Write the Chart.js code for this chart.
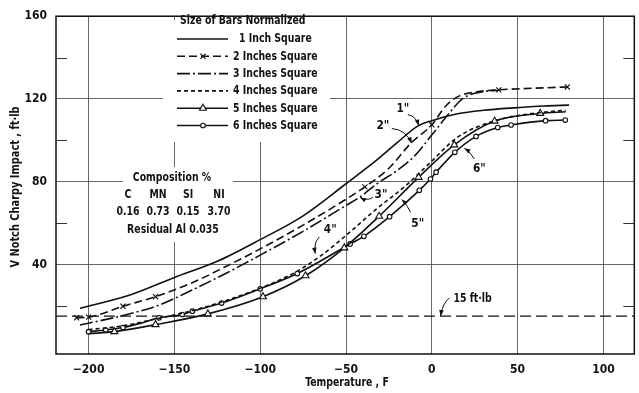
<!DOCTYPE html>
<html>
<head>
<meta charset="utf-8">
<script src="https://cdn.jsdelivr.net/npm/chart.js@4.4.1/dist/chart.umd.min.js"></script>
<style>
  html, body { margin: 0; padding: 0; background: #fff; }
  #c { display: block; }
</style>
</head>
<body>
<canvas id="c" width="639" height="393"></canvas>
<script>
// Axis ticks
const xTicks = [-200, -150, -100, -50, 0, 50, 100];
const yTicks = [40, 80, 120, 160];
const yMinorTicks = [20, 60, 100, 140];

// Legend / curve tags
const seriesNames = ['1 Inch Square', '2 Inches Square', '3 Inches Square',
                     '4 Inches Square', '5 Inches Square', '6 Inches Square'];
const curveTags = ['1"', '2"', '3"', '4"', '5"', '6"'];

// 1 inch square bars
const temp1   = [-205, -175, -150, -125, -100, -75, -50, -32, -20, -8, 0, 15, 30, 50, 65, 80];
const impact1 = [18.8, 25.5, 33.7, 41.5, 52, 63.5, 79, 90.5, 99, 107, 109.5, 112.8, 114.5, 115.8, 116.6, 117];

// 2 inches square bars
const temp2   = [-207, -200, -180, -161, -140, -120, -100, -75, -50, -39, -25, -12, 0, 8, 15, 25, 39, 60, 79];
const impact2 = [14.2, 14.5, 19.8, 24.4, 31, 39, 47.5, 59, 71.5, 77.5, 86.5, 98.8, 107.5, 116.5, 121, 123.3, 124.4, 125.2, 125.8];
const marks2  = [1, 1, 1, 1, 0, 0, 0, 0, 0, 1, 0, 0, 1, 0, 0, 0, 1, 0, 1];

// 3 inches square bars
const temp3   = [-205, -180, -160, -140, -119, -100, -75, -50, -42, -32, -20, -10, 1, 10, 18, 29, 39];
const impact3 = [10.7, 15.3, 20, 27.5, 36.1, 44.5, 56, 68.5, 72.5, 79, 85.5, 92.5, 103.6, 113, 120.2, 123.4, 124.2];

// 4 inches square bars
const temp4   = [-200, -180, -160, -140, -120, -100, -80, -65, -50, -32, -15, 0, 15, 37, 64, 78];
const impact4 = [8.5, 10.3, 13.8, 17.6, 22.5, 28.5, 36, 44, 54, 67, 78.2, 90, 101.5, 109.5, 113.5, 114.5];

// 5 inches square bars
const temp5   = [-200, -185, -161, -130.5, -98.4, -73.6, -51, -30.7, -7.7, 13.1, 36.6, 63.2, 78];
const impact5 = [6.5, 7.5, 10.9, 16.1, 24.4, 34.5, 48, 63.3, 82.1, 97.8, 109.3, 113, 113.8];
const marks5  = [0, 1, 1, 1, 1, 1, 1, 1, 1, 1, 1, 1, 0];

// 6 inches square bars
const temp6   = [-200, -190, -180, -170, -159, -145.5, -139.5, -122.5, -100, -78.4, -47.6, -39.6, -24.6, -7.3, -0.8, 2.5, 13.4, 25.8, 38.4, 46.2, 66.3, 77.8];
const impact6 = [7.5, 8.3, 9.5, 11.5, 14.2, 15.8, 17.4, 21.3, 28.2, 35.6, 49.9, 53.6, 63.1, 75.8, 81.3, 84.6, 94.2, 101.9, 106.2, 107.4, 109.5, 109.8];
const marks6  = [1, 1, 1, 0, 1, 1, 1, 1, 1, 1, 1, 1, 1, 1, 1, 1, 1, 1, 1, 1, 1, 1];

// Reference impact level
const thresholdValue = 15;
const thresholdLabel = '15 ft·lb';

// Steel composition
const compositionTitle = 'Composition %';
const elementNames = ['C', 'MN', 'SI', 'NI'];
const elementPercents = ['0.16', '0.73', '0.15', '3.70'];
const residualNote = 'Residual Al 0.035';

const FONT = "'DejaVu Sans Condensed', 'Liberation Sans Narrow', sans-serif";
const TEXT_FONT = 'bold 13px ' + FONT;
const NARROW = 0.8;   // horizontal squeeze for annotation text
const INK = '#111';

const series = [
  { t: temp1, v: impact1, marks: null,   dash: [],            style: false,      r: 0 },
  { t: temp2, v: impact2, marks: marks2, dash: [8, 4],        style: 'crossRot', r: 3.6 },
  { t: temp3, v: impact3, marks: null,   dash: [13, 3, 2, 3], style: false,      r: 0 },
  { t: temp4, v: impact4, marks: null,   dash: [4, 3],        style: false,      r: 0 },
  { t: temp5, v: impact5, marks: marks5, dash: [],            style: 'triangle', r: 4 },
  { t: temp6, v: impact6, marks: marks6, dash: [],            style: 'circle',   r: 2.3 }
];

// Curve tags with their leader arrows, in data coordinates
const tagNotes = [
  { text: curveTags[0], at: [-16.9, 115.2], from: [-14.0, 112.4], via: [-9.4, 111.9], to: [-7.6, 107.1] },
  { text: curveTags[1], at: [-28.5, 107.1], from: [-23.3, 105.7], via: [-15.2, 105.2], to: [-11.7, 98.6] },
  { text: curveTags[2], at: [-29.6, 73.8],  from: [-34.3, 72.4],  via: [-37.7, 70.5],  to: [-41.8, 72.4] },
  { text: curveTags[3], at: [-59.2, 56.7],  from: [-65.5, 53.3],  via: [-69.0, 50.5],  to: [-67.9, 45.2] },
  { text: curveTags[4], at: [-8.2, 59.5],   from: [-12.3, 65.2],  via: [-14.6, 69.0],  to: [-17.5, 71.4] },
  { text: curveTags[5], at: [27.7, 86.2],   from: [24.8, 91.0],   via: [22.5, 94.3],   to: [19.0, 96.2] }
];
const thresholdNote = { at: [12.6, 23.3], from: [10.3, 23.8], via: [6.3, 21.4], to: [5.1, thresholdValue] };

const datasets = series.map(s => ({
  data: s.t.map((t, i) => ({ x: t, y: s.v[i] })),
  showLine: true,
  borderColor: INK,
  borderWidth: 1.6,
  borderDash: s.dash,
  cubicInterpolationMode: 'monotone',
  fill: false,
  pointStyle: s.style || 'circle',
  pointRadius: ctx => (s.marks && s.marks[ctx.dataIndex]) ? s.r : 0,
  pointHoverRadius: 0,
  pointBackgroundColor: '#fff',
  pointBorderColor: INK,
  pointBorderWidth: 1.1
}));

datasets.push({
  data: [{ x: -219, y: thresholdValue }, { x: 118, y: thresholdValue }],
  showLine: true,
  borderColor: INK,
  borderWidth: 1.4,
  borderDash: [11, 5],
  pointRadius: 0,
  fill: false
});

function arrow(ctx, p0, pc, p1) {
  ctx.beginPath();
  ctx.moveTo(p0[0], p0[1]);
  ctx.quadraticCurveTo(pc[0], pc[1], p1[0], p1[1]);
  ctx.stroke();
  const a = Math.atan2(p1[1] - pc[1], p1[0] - pc[0]);
  const L = 6, W = 2.3;
  ctx.beginPath();
  ctx.moveTo(p1[0], p1[1]);
  ctx.lineTo(p1[0] - L * Math.cos(a) + W * Math.sin(a), p1[1] - L * Math.sin(a) - W * Math.cos(a));
  ctx.lineTo(p1[0] - L * Math.cos(a) - W * Math.sin(a), p1[1] - L * Math.sin(a) + W * Math.cos(a));
  ctx.closePath();
  ctx.fill();
}

// condensed text: squeezed horizontally around its anchor
function label(ctx, s, x, y, align, squeeze) {
  ctx.save();
  ctx.translate(x, y);
  ctx.scale(squeeze || NARROW, 1);
  ctx.textAlign = align || 'left';
  ctx.fillText(s, 0, 0);
  ctx.restore();
}

const decorations = {
  id: 'decorations',
  beforeDatasetsDraw(chart) {
    const ctx = chart.ctx, area = chart.chartArea, ys = chart.scales.y;
    ctx.save();
    // minor ticks on both sides
    ctx.strokeStyle = '#333';
    ctx.lineWidth = 1;
    yMinorTicks.forEach(v => {
      const y = Math.round(ys.getPixelForValue(v)) + 0.5;
      ctx.beginPath();
      ctx.moveTo(area.left, y); ctx.lineTo(area.left + 11, y);
      ctx.moveTo(area.right, y); ctx.lineTo(area.right - 11, y);
      ctx.stroke();
    });
    // clear panels behind legend and composition note
    ctx.fillStyle = '#fff';
    ctx.fillRect(163, 20, 167, 122);
    ctx.fillRect(123, 167, 110, 75);
    ctx.restore();
  },
  afterDatasetsDraw(chart) {
    const ctx = chart.ctx, xs = chart.scales.x, ys = chart.scales.y;
    const P = d => [xs.getPixelForValue(d[0]), ys.getPixelForValue(d[1])];
    ctx.save();
    ctx.fillStyle = INK;
    ctx.strokeStyle = INK;
    ctx.font = TEXT_FONT;
    ctx.textBaseline = 'middle';

    // legend
    label(ctx, 'Size of Bars Normalized', 180, 21);
    seriesNames.forEach((name, i) => {
      const y = 39 + i * 17.3;
      const s = series[i];
      ctx.save();
      ctx.lineWidth = 1.6;
      ctx.setLineDash(s.dash);
      ctx.beginPath();
      ctx.moveTo(177, y); ctx.lineTo(228, y);
      ctx.stroke();
      ctx.restore();
      if (s.style) {
        ctx.save();
        ctx.lineWidth = 1.1;
        ctx.fillStyle = '#fff';
        ctx.strokeStyle = INK;
        Chart.helpers.drawPoint(ctx, { pointStyle: s.style, radius: s.r, borderWidth: 1.1 }, 203, y);
        ctx.restore();
      }
      label(ctx, name, i === 0 ? 239 : 233, y);
    });

    // composition note
    label(ctx, compositionTitle, 172, 178, 'center');
    const colX = [128, 158, 188, 219];
    elementNames.forEach((e, i) => label(ctx, e, colX[i], 195, 'center'));
    elementPercents.forEach((p, i) => label(ctx, p, colX[i], 212, 'center'));
    label(ctx, residualNote, 173, 230, 'center');

    // curve tags
    ctx.lineWidth = 1;
    tagNotes.forEach(n => {
      const a = P(n.at);
      label(ctx, n.text, a[0], a[1], 'center', 0.9);
      arrow(ctx, P(n.from), P(n.via), P(n.to));
    });

    // threshold label
    const t = P(thresholdNote.at);
    label(ctx, thresholdLabel, t[0], t[1], 'left');
    arrow(ctx, P(thresholdNote.from), P(thresholdNote.via), P(thresholdNote.to));

    // axis titles
    label(ctx, 'Temperature , F', 347, 383, 'center');
    ctx.save();
    ctx.translate(16, 187);
    ctx.rotate(-Math.PI / 2);
    label(ctx, 'V Notch Charpy Impact , ft·lb', 0, 0, 'center', 0.84);
    ctx.restore();
    ctx.restore();
  },
  afterDraw(chart) {
    const ctx = chart.ctx, a = chart.chartArea;
    ctx.save();
    ctx.strokeStyle = INK;
    ctx.lineWidth = 1.5;
    ctx.strokeRect(a.left, a.top, a.right - a.left, a.bottom - a.top);
    ctx.restore();
  }
};

new Chart(document.getElementById('c'), {
  type: 'scatter',
  data: { datasets },
  options: {
    responsive: false,
    animation: false,
    events: [],
    layout: { padding: { top: 11, right: 1, left: 0, bottom: 0 } },
    plugins: { legend: { display: false }, tooltip: { enabled: false } },
    scales: {
      x: {
        type: 'linear',
        min: -219,
        max: 118,
        afterBuildTicks: s => { s.ticks = xTicks.map(v => ({ value: v })); },
        afterFit: s => { s.height = 39; },
        grid: { color: '#555', lineWidth: 0.9, drawTicks: false },
        border: { display: false },
        ticks: {
          padding: 9,
          color: INK,
          font: { family: FONT, size: 12, weight: 'bold' },
          callback: v => (v < 0 ? '\u2212' + Math.abs(v) : String(v))
        }
      },
      y: {
        type: 'linear',
        min: -3.3,
        max: 160,
        afterBuildTicks: s => { s.ticks = yTicks.map(v => ({ value: v })); },
        afterFit: s => { s.width = 56; },
        grid: { color: '#555', lineWidth: 0.9, drawTicks: false },
        border: { display: false },
        ticks: {
          padding: 9,
          color: INK,
          font: { family: FONT, size: 12, weight: 'bold' },
          callback: v => String(v)
        }
      }
    }
  },
  plugins: [decorations]
});
</script>
</body>
</html>
